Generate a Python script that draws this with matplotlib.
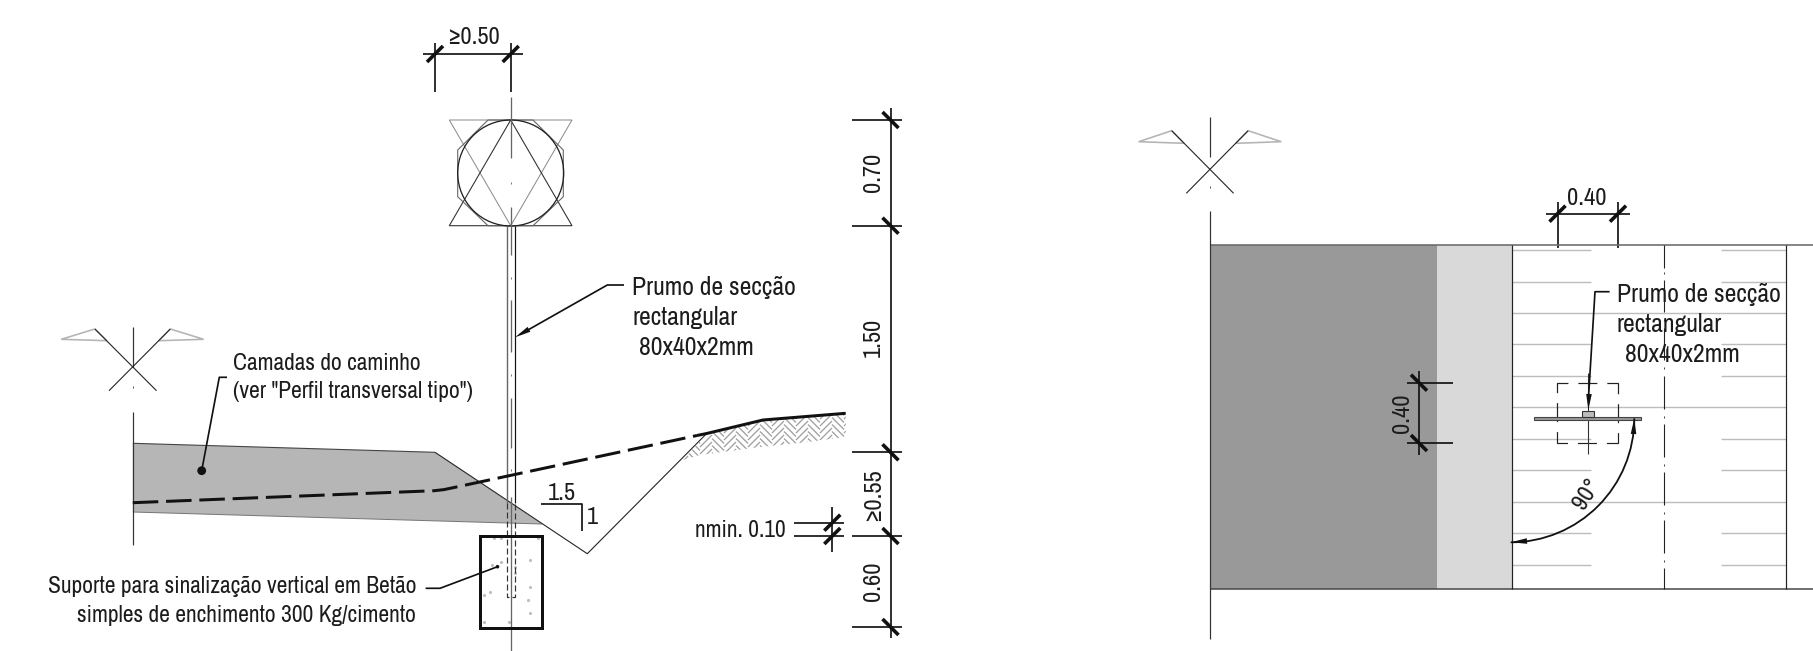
"""Road section and plan detail of a vertical sign support, redrawn with matplotlib."""
import matplotlib
matplotlib.use("Agg")
import matplotlib.pyplot as plt
from matplotlib import font_manager
from matplotlib.collections import LineCollection
from matplotlib.patches import Arc, Circle, Polygon, Rectangle

# the drawing uses an Arial Narrow look, take the first narrow face that exists
SIZE_SCALE = 0.82
for narrow in ("Archivo Narrow", "PT Sans Narrow", "Liberation Sans Narrow"):
    try:
        font_manager.findfont(narrow, fallback_to_default=False)
    except ValueError:
        continue
    plt.rcParams["font.family"] = [narrow, "Liberation Sans", "DejaVu Sans"]
    SIZE_SCALE = 1.0
    break
else:
    plt.rcParams["font.family"] = ["Liberation Sans", "DejaVu Sans"]

INK = "#111111"
TEXT = "#1c1c1c"
DIM_SIZE = 17.6
NOTE_SIZE = 16.9
PRUMO_SIZE = 18.5

# left drawing: cross section
layers_x = [132.8, 435, 542, 132.8]
layers_y = [443.3, 452.3, 524, 512]
ditch_x = [435, 587.3, 706.7]
ditch_y = [452.3, 553.7, 433.5]
road_dash_x = [132.8, 434.4, 444, 455, 697]
road_dash_y = [502.7, 490.7, 489.6, 487.3, 435.5]
road_solid_x = [697, 706.7, 763, 845.7]
road_solid_y = [435.5, 433.5, 420, 413.3]
ground_x = [706.7, 763, 845.7, 845.7, 800, 760, 700, 683]
ground_y = [433.5, 420, 413.3, 437, 443, 447, 455, 460]

post_center = 510.7
post_left = 506.7
post_right = 514.7
post_top = 225.7
post_solid_end = 503
post_dashed_end = 596.7
post_axis_y = [(96.7, 158), (206.7, 255), (300, 351.7), (398.3, 448), (496.7, 651)]
post_axis_dots = [182.7, 278, 375, 470]

sign_up_x = [510.7, 449.3, 572]
sign_up_y = [120, 225.7, 225.7]
sign_down_x = [510.7, 449.3, 572]
sign_down_y = [225.7, 120, 120]
sign_circle = (510.7, 173, 53)
sign_oct_x = [488, 533, 563.3, 563.3, 533, 488, 457.7, 457.7]
sign_oct_y = [120, 120, 150, 196.7, 225.7, 225.7, 196.7, 150]

footing_x = [480.3, 541.7]
footing_y = [535.7, 627.5]
speckle_x = [494, 501, 538, 501, 492, 530, 515, 515, 490, 484, 530, 528, 530, 484, 509]
speckle_y = [538, 538, 538, 562, 565, 560, 567, 573, 592, 595, 587, 600, 613, 622, 622]

dim_levels_y = [120, 225.7, 452.3, 536, 627]
dim_labels = ["0.70", "1.50", "≥0.55", "0.60"]
dim_label_y = [172.8, 337.6, 494.7, 581.7]

# right drawing: plan
band_top = 245.3
band_bottom = 589
band_x = [1209.7, 1437, 1512.3, 1786]
lane_y = [250, 281.7, 312.7, 344.3, 376, 407.3, 439, 470.3, 502, 533.3, 565]
lane_full = [312.7, 407.3, 502]
lane_left_end = 1591
lane_right_start = 1721
axis_x = 1664.3
axis_segs = [(245.3, 268), (280, 312), (328, 360), (376, 409), (424, 457), (472, 505), (520, 553), (568, 589)]
axis_dots = [272.7, 320.3, 368.3, 416.7, 465, 512.7, 561]

north_left = dict(x=132.8, top=326.7, bottom=545, dot=387, gap=411.7,
                  cross=[(94.9, 329, 156.5, 390.7), (170.3, 329, 109, 390.7)],
                  flags=[[(94.9, 329), (61.2, 339.3), (107, 340.7)],
                         [(170.3, 329), (203.6, 339.3), (158.8, 340.7)]])
north_right = dict(x=1209.7, top=116.7, bottom=639, dot=186.7, gap=210.7,
                   cross=[(1171.7, 130.7, 1233.6, 193.3), (1248.1, 130.7, 1186.3, 193.3)],
                   flags=[[(1171.7, 130.7), (1138.6, 141.7), (1184, 143.3)],
                          [(1248.1, 130.7), (1281.3, 141.7), (1235.8, 143.3)]])


def px(n):
    return n * 0.72


def line(ax, xs, ys, w=1.0, color=INK, **kw):
    ax.plot(xs, ys, color=color, lw=px(w), solid_capstyle="butt", **kw)


def tick(ax, x, y, size=8):
    line(ax, [x - size, x + size], [y + size, y - size], w=3.6)


def back_tick(ax, x, y, size=8):
    line(ax, [x - size, x + size], [y - size, y + size], w=3.6)


def head(ax, tip, base, half=2.8):
    dx, dy = base[0] - tip[0], base[1] - tip[1]
    n = (dx * dx + dy * dy) ** 0.5
    nx, ny = -dy / n * half, dx / n * half
    ax.add_patch(Polygon([tip, (base[0] + nx, base[1] + ny), (base[0] - nx, base[1] - ny)],
                         closed=True, fc=INK, ec="none", zorder=6))


def label(ax, x, y, s, size=DIM_SIZE, **kw):
    ax.text(x, y, s, fontsize=size * SIZE_SCALE, color=TEXT, zorder=7, **kw)


def north(ax, n):
    line(ax, [n["x"], n["x"]], [n["top"], n["top"] + 40], w=1.2, color="#333333")
    line(ax, [n["x"], n["x"]], [n["dot"] - 1, n["dot"] + 1], w=1, color="#555555")
    line(ax, [n["x"], n["x"]], [n["gap"], n["bottom"]], w=1.2, color="#333333", zorder=4)
    for x0, y0, x1, y1 in n["cross"]:
        line(ax, [x0, x1], [y0, y1], w=1.1, color="#222222")
    for tri in n["flags"]:
        ax.add_patch(Polygon(tri, closed=True, fc="white", ec="#b4b4b4", lw=px(1.6)))


def herringbone(ax, xs, ys):
    outline = Polygon(list(zip(xs, ys)), closed=True, fc="none", ec="none")
    ax.add_patch(outline)
    segs = []
    for col in range(16):
        x0 = 676 + col * 12
        for row in range(10):
            y0 = 400 + row * 7 + (col % 4) * 3.5
            if col % 2:
                segs.append([(x0, y0), (x0 + 12, y0 + 12)])
            else:
                segs.append([(x0, y0 + 12), (x0 + 12, y0)])
    lc = LineCollection(segs, colors="#a0a0a0", linewidths=px(1.3))
    ax.add_collection(lc)
    lc.set_clip_path(outline)


def section(ax):
    north(ax, north_left)
    ax.add_patch(Polygon(list(zip(layers_x, layers_y)), closed=True, fc="#b6b6b6", ec="none", zorder=1))
    line(ax, layers_x[:2], layers_y[:2], w=1.1, color="#444444", zorder=2)
    line(ax, layers_x[2:], layers_y[2:], w=1.0, color="#777777", zorder=2)
    line(ax, ditch_x, ditch_y, w=1.1, color="#222222", zorder=2)
    herringbone(ax, ground_x, ground_y)
    ax.plot(road_dash_x, road_dash_y, color=INK, lw=px(3), zorder=5,
            linestyle=(0, (8.5, 2.6)), dash_capstyle="butt")
    line(ax, road_solid_x, road_solid_y, w=3, zorder=5)

    # sign head
    ax.add_patch(Polygon(list(zip(sign_down_x, sign_down_y)), closed=True, fc="none", ec="#8a8a8a", lw=px(1.0)))
    ax.add_patch(Polygon(list(zip(sign_up_x, sign_up_y)), closed=True, fc="none", ec="#333333", lw=px(1.1)))
    ax.add_patch(Polygon(list(zip(sign_oct_x, sign_oct_y)), closed=True, fc="none", ec="#666666", lw=px(1.1)))
    cx, cy, r = sign_circle
    ax.add_patch(Circle((cx, cy), r, fc="none", ec="#222222", lw=px(1.3)))

    # post and its axis
    line(ax, [post_left, post_left], [post_top, post_solid_end], w=1.4, color="#666666", zorder=3)
    line(ax, [post_right, post_right], [post_top, post_solid_end], w=1.2, color="#111111", zorder=3)
    for y0, y1 in post_axis_y:
        line(ax, [post_center, post_center], [y0, y1], w=1.3, color="#666666", zorder=3)
    for y in post_axis_dots:
        line(ax, [post_center, post_center], [y - 1, y + 1], w=1.0, color="#777777", zorder=3)
    ax.plot([post_left, post_left, post_right, post_right],
            [post_solid_end, post_dashed_end, post_dashed_end, post_solid_end],
            color="#333333", lw=px(1.2), linestyle=(0, (5, 2.5)), zorder=3)

    # footing
    ax.scatter(speckle_x, speckle_y, s=5, color="#bdbdbd", linewidths=0, zorder=2)
    ax.add_patch(Rectangle((footing_x[0], footing_y[0]), footing_x[1] - footing_x[0],
                           footing_y[1] - footing_y[0], fc="none", ec=INK, lw=px(3), zorder=4))

    # top dimension
    line(ax, [423.3, 522.7], [54, 54], w=1.7)
    line(ax, [435, 435], [42.7, 92.3], w=1.7)
    line(ax, [post_center, post_center], [42.7, 92.3], w=1.7)
    tick(ax, 435, 54)
    tick(ax, post_center, 54)
    label(ax, 473, 44.3, "≥0.50", ha="center", va="baseline")

    # right dimension chain
    dim_x = 890.5
    line(ax, [dim_x, dim_x], [108, 638.3], w=1.7)
    for y in dim_levels_y:
        line(ax, [852.3, 902.3], [y, y], w=1.7)
        back_tick(ax, dim_x, y)
    for s, y in zip(dim_labels, dim_label_y):
        label(ax, 873.3, y, s, rotation=90, ha="center", va="center")

    # nmin. 0.10
    for y in (522.7, 536):
        line(ax, [794, 844], [y, y], w=1.7)
        tick(ax, 832.3, y)
    line(ax, [832.3, 832.3], [506.7, 551.7], w=1.7)
    label(ax, 785.7, 537.3, "nmin. 0.10", size=NOTE_SIZE, ha="right", va="baseline")

    # slope mark
    line(ax, [541, 582, 582], [504, 504, 531], w=1.7)
    label(ax, 561.7, 500, "1.5", ha="center", va="baseline")
    label(ax, 592.7, 524.3, "1", ha="center", va="baseline")

    # leaders
    line(ax, [624, 607.3, 520], [285, 285, 334.5], w=1.7, zorder=6)
    head(ax, (515, 337.3), (529, 329.3))
    label(ax, 632.3, 295, "Prumo de secção", size=PRUMO_SIZE, va="baseline")
    label(ax, 632.3, 325, "rectangular", size=PRUMO_SIZE, va="baseline")
    label(ax, 639, 355, "80x40x2mm", size=PRUMO_SIZE, va="baseline")

    line(ax, [227, 219.3, 201.7], [377.3, 377.3, 470.7], w=1.7, zorder=6)
    ax.add_patch(Circle((201.7, 470.7), 4.4, fc=INK, ec="none", zorder=6))
    label(ax, 233.4, 370, "Camadas do caminho", size=NOTE_SIZE, va="baseline")
    label(ax, 233.4, 397.7, '(ver "Perfil transversal tipo")', size=NOTE_SIZE, va="baseline")

    line(ax, [425.6, 440, 497.5], [588.3, 588.3, 566.7], w=1.7, zorder=6)
    ax.add_patch(Circle((497.5, 566.7), 1.8, fc=INK, ec="none", zorder=6))
    label(ax, 416, 593.3, "Suporte para sinalização vertical em Betão", size=NOTE_SIZE, ha="right", va="baseline")
    label(ax, 416, 622.3, "simples de enchimento 300 Kg/cimento", size=NOTE_SIZE, ha="right", va="baseline")


def plan(ax):
    north(ax, north_right)
    ax.add_patch(Rectangle((band_x[0], band_top), band_x[1] - band_x[0], band_bottom - band_top,
                           fc="#999999", ec="none", zorder=1))
    ax.add_patch(Rectangle((band_x[1], band_top), band_x[2] - band_x[1], band_bottom - band_top,
                           fc="#d9d9d9", ec="none", zorder=1))

    for y in lane_y:
        if y in lane_full:
            line(ax, [band_x[2], band_x[3]], [y, y], w=1.4, color="#bdbdbd")
        else:
            line(ax, [band_x[2], lane_left_end], [y, y], w=1.4, color="#bdbdbd")
            line(ax, [lane_right_start, band_x[3]], [y, y], w=1.4, color="#bdbdbd")

    line(ax, [band_x[0], 1813], [band_top, band_top], w=1.6, color="#6a6a6a", zorder=3)
    line(ax, [band_x[0], 1813], [band_bottom, band_bottom], w=1.5, color="#444444", zorder=3)
    line(ax, [band_x[2], band_x[2]], [band_top, band_bottom], w=1.2, color="#222222", zorder=3)
    line(ax, [band_x[3], band_x[3]], [band_top, band_bottom], w=1.2, color="#222222", zorder=3)

    for y0, y1 in axis_segs:
        line(ax, [axis_x, axis_x], [y0, y1], w=1.1, color="#222222", zorder=3)
    for y in axis_dots:
        line(ax, [axis_x, axis_x], [y - 1, y + 1], w=1.0, color="#444444", zorder=3)

    # post footprint, dashes meet at the corners
    ax.add_patch(Rectangle((1557.3, 382.7), 61, 60.3, fc="none", ec="#222222", lw=px(1.2),
                           linestyle=(9.2, (18.3, 8.3, 15.8, 8.3)), zorder=4))
    line(ax, [1587.7, 1587.7], [373, 454], w=1.1, color="#333333", zorder=4)
    ax.add_patch(Rectangle((1534.3, 416.7), 106.7, 3.6, fc="#999999", ec="#444444", lw=px(1.1), zorder=5))
    ax.add_patch(Rectangle((1581.7, 410.7), 12.3, 6, fc="#bbbbbb", ec="#333333", lw=px(1.1), zorder=5))

    # 90 degree arc
    ax.add_patch(Arc((1510.7, 418.3), 247.2, 248, theta1=0, theta2=90, ec=INK, lw=px(1.8), zorder=5))
    head(ax, (1634.3, 418.3), (1633.5, 434))
    head(ax, (1510.7, 542.3), (1527, 541))
    label(ax, 1587, 494, "90°", rotation=58, ha="center", va="center")

    # dimensions
    line(ax, [1545.5, 1629.5], [213.7, 213.7], w=1.7)
    for x in (1557.5, 1618):
        line(ax, [x, x], [201.7, 248.3], w=1.7)
        tick(ax, x, 213.7)
    label(ax, 1587, 205, "0.40", ha="center", va="baseline")

    line(ax, [1419, 1419], [370.7, 455], w=1.7, zorder=4)
    for y in (382.7, 443):
        line(ax, [1407, 1453.3], [y, y], w=1.7, zorder=4)
        back_tick(ax, 1419, y)
    label(ax, 1403, 413, "0.40", rotation=90, ha="center", va="center")

    # leader
    line(ax, [1609.6, 1595, 1588.6], [291.7, 291.7, 396], w=1.7, zorder=6)
    head(ax, (1588.3, 410), (1589, 394))
    label(ax, 1617, 301.7, "Prumo de secção", size=PRUMO_SIZE, va="baseline")
    label(ax, 1617, 331.7, "rectangular", size=PRUMO_SIZE, va="baseline")
    label(ax, 1624.6, 361.7, "80x40x2mm", size=PRUMO_SIZE, va="baseline")


fig = plt.figure(figsize=(18.13, 6.51), dpi=100)
ax = fig.add_axes([0, 0, 1, 1])
ax.set_xlim(0, 1813)
ax.set_ylim(651, 0)
ax.axis("off")

section(ax)
plan(ax)

fig.savefig("out.png", dpi=100, facecolor="white")
plt.close(fig)
